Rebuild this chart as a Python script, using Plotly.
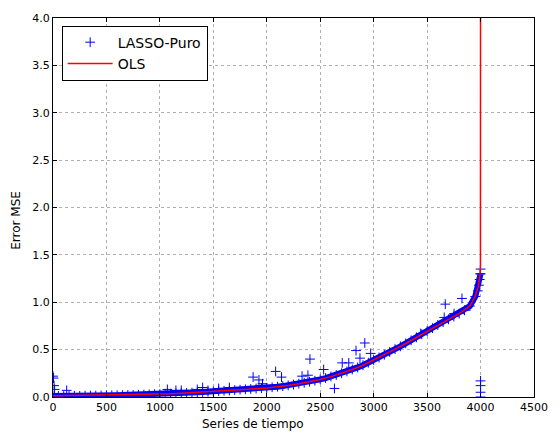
import plotly.graph_objects as go

# OLS sorted MSE curve
ols_x = [0, 100, 200, 300, 400, 500, 600, 700, 800, 900, 1000, 1100, 1200, 1300, 1400,
         1500, 1600, 1700, 1800, 1900, 2000, 2100, 2200, 2300, 2400, 2500, 2600, 2700,
         2800, 2900, 3000, 3100, 3200, 3300, 3400, 3500, 3600, 3700, 3800, 3900, 3950,
         3980, 3995, 3999, 4000]
ols_y = [0.012, 0.014, 0.015, 0.016, 0.017, 0.018, 0.019, 0.021, 0.023, 0.026, 0.030,
         0.034, 0.039, 0.045, 0.052, 0.058, 0.065, 0.072, 0.080, 0.088, 0.096, 0.108,
         0.122, 0.140, 0.160, 0.185, 0.215, 0.250, 0.290, 0.335, 0.390, 0.445, 0.505,
         0.565, 0.630, 0.695, 0.760, 0.820, 0.880, 0.960, 1.06, 1.17, 1.30, 1.40, 5.0]

# LASSO-Puro main band, one value every 50 series
lasso_band_x = list(range(0, 4001, 50))
lasso_band_y = [0.010, 0.012, 0.010, 0.012, 0.013, 0.012, 0.014, 0.015, 0.015, 0.016,
                0.017, 0.018, 0.019, 0.020, 0.021, 0.022, 0.024, 0.025, 0.027, 0.029,
                0.031, 0.033, 0.035, 0.038, 0.040, 0.043, 0.046, 0.050, 0.053, 0.056,
                0.059, 0.062, 0.066, 0.069, 0.073, 0.077, 0.081, 0.085, 0.089, 0.093,
                0.097, 0.103, 0.109, 0.115, 0.123, 0.131, 0.141, 0.150, 0.161, 0.172,
                0.186, 0.200, 0.216, 0.232, 0.251, 0.270, 0.291, 0.312, 0.336, 0.362,
                0.390, 0.417, 0.446, 0.475, 0.505, 0.535, 0.566, 0.598, 0.630, 0.662,
                0.695, 0.727, 0.760, 0.790, 0.820, 0.850, 0.880, 0.915, 0.960, 1.060, 1.300]

# LASSO-Puro scattered points away from the band
lasso_out_x = [0, 5, 10, 15, 128, 1070, 1150, 1200, 1350, 1400, 1450, 1550, 1650,
               1872, 1927, 1960, 2083, 2138, 2330, 2385, 2404, 2532, 2633, 2706, 2767,
               2835, 2872, 2917, 2972, 3440, 3660, 3670, 3752, 3826, 3975, 3985,
               3992, 3997, 4000, 4000, 4000, 4000, 4000]
lasso_out_y = [0.22, 0.20, 0.12, 0.08, 0.07, 0.08, 0.07, 0.07, 0.08, 0.10, 0.07, 0.09,
               0.10, 0.21, 0.18, 0.14, 0.27, 0.21, 0.22, 0.23, 0.40, 0.29, 0.09, 0.36,
               0.36, 0.49, 0.41, 0.57, 0.46, 0.67, 0.84, 0.98, 0.88, 1.04, 1.12, 1.18,
               1.24, 1.30, 1.35, 0.17, 0.12, 0.05, 0.0]

lasso_x = lasso_band_x + lasso_out_x
lasso_y = lasso_band_y + lasso_out_y

x_ticks = [0, 500, 1000, 1500, 2000, 2500, 3000, 3500, 4000, 4500]
y_ticks = [0.0, 0.5, 1.0, 1.5, 2.0, 2.5, 3.0, 3.5, 4.0]

BLUE = "#0000ff"
fig = go.Figure()
# dense LASSO band (thousands of overlapping markers in the original)
fig.add_trace(go.Scatter(
    x=lasso_band_x, y=lasso_band_y, mode="lines", showlegend=False, hoverinfo="skip",
    line=dict(color=BLUE, width=6),
))
fig.add_trace(go.Scatter(
    x=lasso_x, y=lasso_y, mode="markers", name="LASSO-Puro",
    marker=dict(symbol="cross-thin", size=7, line=dict(color=BLUE, width=1), color=BLUE),
))
fig.add_trace(go.Scatter(
    x=ols_x, y=ols_y, mode="lines", name="OLS",
    line=dict(color="#ff0000", width=1.5),
))

axis_common = dict(
    showline=True, linecolor="black", linewidth=1, mirror="ticks",
    ticks="inside", ticklen=4, tickcolor="black",
    showgrid=True, gridcolor="#b0b0b0", griddash="dot", gridwidth=1,
    zeroline=False, tickfont=dict(family="DejaVu Sans", size=11, color="black"),
)
fig.update_xaxes(range=[0, 4500], tickvals=x_ticks,
                 ticktext=[str(v) for v in x_ticks], **axis_common)
fig.update_yaxes(range=[0, 4], tickvals=y_ticks,
                 ticktext=[f"{v:.1f}" for v in y_ticks], **axis_common)

title_font = dict(family="DejaVu Sans", size=12, color="black")
fig.update_layout(
    width=560, height=436,
    margin=dict(l=53, r=16, t=16, b=39),
    paper_bgcolor="white", plot_bgcolor="white",
    font=dict(family="DejaVu Sans", size=11, color="black"),
    legend=dict(x=0.018, y=0.98, xanchor="left", yanchor="top",
                bgcolor="white", bordercolor="black", borderwidth=1,
                font=dict(family="DejaVu Sans", size=14, color="black"),
                itemwidth=45),
    showlegend=True,
    annotations=[
        dict(text="Series de tiempo", xref="paper", yref="paper",
             x=(257 - 53) / 491, y=-(424 - 397) / 381, xanchor="center", yanchor="middle",
             showarrow=False, font=title_font),
        dict(text="Error MSE", xref="paper", yref="paper",
             x=(15 - 53) / 491, y=(397 - 219) / 381, xanchor="center", yanchor="middle",
             textangle=-90, showarrow=False, font=title_font),
    ],
)

fig.write_html("out.html")
